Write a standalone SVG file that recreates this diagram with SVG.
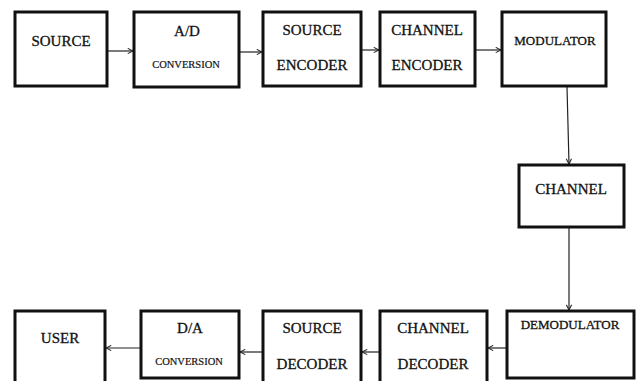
<svg xmlns="http://www.w3.org/2000/svg" width="636" height="381" viewBox="0 0 636 381">
  <style>
    .box { fill: #fff; stroke: #111; stroke-width: 3; }
    .t { font-family: "Liberation Serif", "Times New Roman", serif; fill: #111; stroke: #111; stroke-width: 0.3; text-anchor: middle; font-size: 15px; }
    .s { font-size: 13px; }
    .xs { font-size: 10.5px; stroke-width: 0.2; }
    .link { stroke: #222; stroke-width: 1.2; fill: none; marker-end: url(#arrow); }
  </style>
  <defs>
    <marker id="arrow" viewBox="0 0 8 8" refX="7" refY="4" markerWidth="7" markerHeight="7" markerUnits="userSpaceOnUse" orient="auto">
      <path d="M1,1 L7,4 L1,7" fill="none" stroke="#222" stroke-width="1.2"/>
    </marker>
  </defs>

  <rect width="636" height="381" fill="#fff"/>

  <g id="connectors">
    <line class="link" x1="107" y1="51" x2="133" y2="51"/>
    <line class="link" x1="239" y1="52" x2="262" y2="52"/>
    <line class="link" x1="361" y1="50" x2="379" y2="50"/>
    <line class="link" x1="475" y1="50" x2="501" y2="50"/>
    <line class="link" x1="567" y1="87" x2="569" y2="164"/>
    <line class="link" x1="569" y1="228" x2="569" y2="310"/>
    <line class="link" x1="507" y1="348" x2="488" y2="348"/>
    <line class="link" x1="380" y1="352" x2="362" y2="352"/>
    <line class="link" x1="263" y1="352" x2="240" y2="352"/>
    <line class="link" x1="141" y1="348" x2="106" y2="348"/>
  </g>

  <g id="source">
    <rect class="box" x="15" y="12" width="92" height="74"/>
    <text class="t" x="61" y="46">SOURCE</text>
  </g>
  <g id="ad-conversion">
    <rect class="box" x="134" y="12" width="105" height="75"/>
    <text class="t" x="187" y="36">A/D</text>
    <text class="t xs" x="186" y="68">CONVERSION</text>
  </g>
  <g id="source-encoder">
    <rect class="box" x="263" y="12" width="98" height="74"/>
    <text class="t" x="312" y="35">SOURCE</text>
    <text class="t" x="312" y="70">ENCODER</text>
  </g>
  <g id="channel-encoder">
    <rect class="box" x="380" y="12" width="95" height="74"/>
    <text class="t" x="427" y="35">CHANNEL</text>
    <text class="t" x="427" y="70">ENCODER</text>
  </g>
  <g id="modulator">
    <rect class="box" x="502" y="12" width="104" height="74"/>
    <text class="t s" x="555" y="45">MODULATOR</text>
  </g>
  <g id="channel">
    <rect class="box" x="519" y="165" width="105" height="62"/>
    <text class="t" x="571" y="194">CHANNEL</text>
  </g>
  <g id="demodulator">
    <rect class="box" x="507" y="311" width="127" height="67"/>
    <text class="t s" x="570" y="329">DEMODULATOR</text>
  </g>
  <g id="channel-decoder">
    <rect class="box" x="380" y="311" width="107" height="80"/>
    <text class="t" x="433" y="333">CHANNEL</text>
    <text class="t" x="433" y="369">DECODER</text>
  </g>
  <g id="source-decoder">
    <rect class="box" x="263" y="311" width="98" height="80"/>
    <text class="t" x="312" y="333">SOURCE</text>
    <text class="t" x="312" y="369">DECODER</text>
  </g>
  <g id="da-conversion">
    <rect class="box" x="141" y="311" width="98" height="67"/>
    <text class="t" x="190" y="333">D/A</text>
    <text class="t xs" x="189" y="365">CONVERSION</text>
  </g>
  <g id="user">
    <rect class="box" x="15" y="311" width="90" height="80"/>
    <text class="t" x="60" y="343">USER</text>
  </g>
</svg>
